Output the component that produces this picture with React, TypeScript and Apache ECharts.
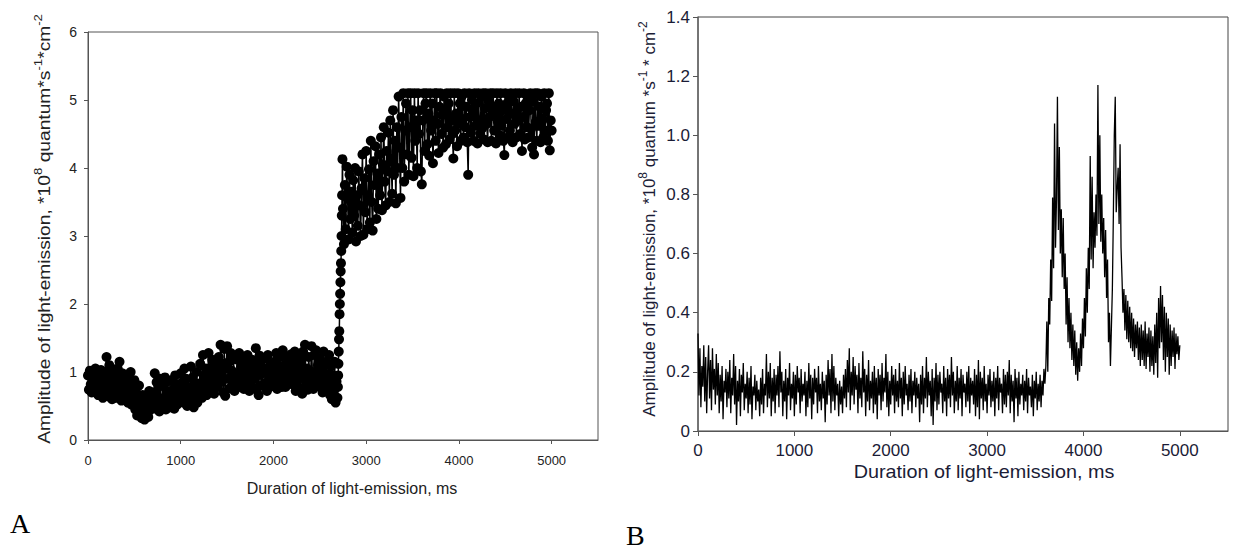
import React, { useEffect, useRef } from "react";
import * as echarts from "echarts";

// ---------- Panel A data (time step 10 ms) ----------
const A_STEP = 10;
// t = 0 .. 2690 ms
const ampA_pre = [
  0.95, 0.74, 1.02, 0.82, 0.7, 0.98, 0.86, 0.76, 1.05, 0.9,
  0.8, 0.66, 0.97, 0.72, 1.03, 0.85, 0.62, 0.92, 0.75, 1.0,
  1.22, 0.88, 0.64, 1.1, 0.76, 0.98, 0.6, 1.04, 0.82, 0.7,
  0.92, 0.62, 1.05, 0.74, 1.15, 0.86, 0.58, 0.98, 0.7, 0.8,
  0.96, 0.6, 0.84, 0.55, 0.9, 0.68, 1.0, 0.52, 0.76, 0.64,
  0.88, 0.45, 0.7, 0.36, 0.62, 0.8, 0.4, 0.55, 0.32, 0.66,
  0.5, 0.3, 0.65, 0.38, 0.58, 0.34, 0.72, 0.44, 0.62, 0.48,
  0.7, 0.55, 0.98, 0.46, 0.85, 0.62, 0.78, 0.42, 0.9, 0.58,
  0.52, 0.8, 0.62, 0.92, 0.45, 0.72, 0.86, 0.56, 0.68, 0.48,
  0.88, 0.6, 0.75, 0.46, 0.95, 0.66, 0.52, 0.82, 0.7, 0.58,
  0.98, 0.62, 0.85, 0.55, 1.05, 0.72, 0.9, 0.5, 0.78, 0.66,
  0.75, 1.08, 0.58, 0.92, 0.48, 0.84, 0.66, 1.0, 0.55, 0.8,
  0.7, 1.12, 0.84, 0.62, 1.25, 0.95, 0.76, 1.05, 0.66, 0.9,
  1.28, 0.8, 1.05, 0.72, 1.18, 0.92, 0.68, 1.1, 0.86, 0.98,
  0.78, 1.22, 0.95, 1.4, 0.86, 1.12, 0.7, 1.34, 0.65, 1.05,
  1.38, 0.9, 1.15, 0.76, 1.28, 1.02, 0.82, 1.2, 0.72, 0.98,
  0.85, 1.18, 0.96, 1.28, 0.78, 1.08, 0.9, 1.22, 0.75, 1.02,
  1.12, 0.8, 1.25, 0.92, 0.72, 1.05, 0.86, 1.18, 0.98, 0.76,
  0.9, 1.35, 0.74, 1.12, 0.66, 1.24, 0.96, 0.8, 1.18, 1.02,
  1.2, 0.84, 1.05, 0.72, 1.25, 0.95, 0.78, 1.12, 0.88, 1.0,
  0.8, 1.15, 0.92, 1.28, 0.75, 1.06, 0.86, 1.22, 0.98, 0.78,
  1.32, 0.9, 1.1, 0.78, 1.22, 1.0, 0.84, 1.16, 0.94, 1.26,
  0.82, 1.18, 0.95, 1.3, 0.72, 1.08, 0.88, 1.24, 0.76, 1.02,
  1.15, 0.68, 1.3, 0.92, 1.4, 0.8, 1.05, 0.74, 1.22, 0.98,
  0.88, 1.38, 1.0, 0.75, 1.25, 0.92, 1.32, 0.8, 1.1, 0.85,
  1.2, 0.78, 1.05, 0.7, 1.3, 0.9, 0.74, 1.15, 0.96, 0.82,
  1.25, 0.66, 1.08, 0.6, 0.95, 0.72, 1.15, 0.55, 0.86, 0.62,
];
// steep rise near 2700 ms
const riseA_t = [2695, 2698, 2701, 2704, 2707, 2710, 2713, 2716, 2719, 2722, 2725, 2728, 2731, 2734, 2737, 2740, 2744];
const riseA_v = [0.78, 0.95, 1.12, 1.3, 1.48, 1.6, 1.85, 2.0, 2.15, 2.32, 2.48, 2.6, 2.78, 3.0, 3.3, 3.6, 4.13];
// t = 2750 .. 5000 ms
const A_POST_START = 2750;
const ampA_post = [
  3.4, 2.88, 3.75, 3.1, 4.02, 3.55, 2.95, 3.9, 3.25, 3.65,
  3.05, 3.82, 3.3, 4.0, 2.92, 3.6, 3.15, 3.95, 3.45, 3.0,
  3.7, 4.2, 3.02, 3.85, 3.35, 4.25, 3.1, 3.6, 3.98, 3.2,
  4.4, 3.5, 3.08, 4.1, 3.75, 4.32, 3.25, 3.92, 3.4, 4.2,
  3.6, 4.45, 3.38, 4.05, 4.6, 3.8, 3.45, 4.25, 3.95, 4.52,
  3.5, 4.7, 4.1, 3.62, 4.85, 3.9, 4.4, 3.48, 4.6, 4.0,
  5.05, 4.3, 3.56, 4.75, 4.0, 5.1, 3.8, 4.55, 4.95, 4.2,
  5.1, 3.9, 4.6, 5.1, 4.15, 4.85, 3.88, 5.1, 4.4, 4.7,
  4.0, 5.1, 4.5, 4.85, 3.95, 3.76, 4.7, 5.1, 4.25, 4.95,
  5.1, 4.35, 4.8, 4.18, 5.1, 4.55, 4.95, 4.07, 4.7, 5.1,
  4.4, 5.1, 4.65, 4.22, 4.9, 5.1, 4.5, 4.78, 4.3, 5.05,
  4.85, 4.35, 5.1, 4.6, 4.95, 4.42, 5.1, 4.7, 4.5, 4.14,
  5.1, 4.55, 4.8, 4.32, 5.1, 4.65, 4.95, 4.4, 5.05, 4.72,
  4.45, 5.1, 4.6, 4.9, 4.38, 3.9, 5.1, 4.75, 4.52, 5.0,
  4.85, 4.4, 5.1, 4.62, 4.95, 4.36, 5.1, 4.7, 4.5, 5.05,
  4.58, 5.1, 4.42, 4.88, 5.1, 4.65, 4.38, 4.98, 4.75, 5.1,
  4.4, 4.9, 5.1, 4.55, 4.8, 4.36, 5.1, 4.68, 4.95, 4.48,
  5.1, 4.62, 4.85, 4.4, 4.19, 5.1, 4.72, 4.95, 4.45, 5.05,
  4.55, 5.1, 4.8, 4.38, 4.98, 4.65, 5.1, 4.45, 4.88, 4.7,
  5.1, 4.5, 4.9, 4.25, 4.75, 5.1, 4.42, 4.95, 4.6, 5.05,
  4.45, 4.85, 5.1, 4.58, 4.3, 4.98, 4.2, 5.1, 4.68, 4.4,
  5.1, 4.62, 4.9, 4.38, 5.05, 4.72, 4.45, 5.1, 4.55, 4.85,
  4.95, 4.4, 5.1, 4.26, 4.7, 4.55,
];

// ---------- Panel B data (time step 10 ms, t = 0 .. 5000) ----------
const B_STEP = 10;
const ampB = [
  0.33, 0.12, 0.28, 0.08, 0.22, 0.15, 0.29, 0.1, 0.25, 0.06,
  0.2, 0.29, 0.11, 0.24, 0.07, 0.28, 0.14, 0.21, 0.09, 0.26,
  0.12, 0.23, 0.06, 0.19, 0.1, 0.22, 0.04, 0.17, 0.13, 0.21,
  0.08, 0.2, 0.11, 0.24, 0.06, 0.18, 0.12, 0.26, 0.09, 0.22,
  0.02, 0.17, 0.1, 0.21, 0.05, 0.19, 0.13, 0.23, 0.07, 0.16,
  0.11, 0.2, 0.06, 0.18, 0.09, 0.22, 0.04, 0.15, 0.12, 0.19,
  0.07, 0.17, 0.1, 0.14, 0.05, 0.18, 0.09, 0.21, 0.06, 0.16,
  0.12, 0.26, 0.08, 0.2, 0.11, 0.23, 0.05, 0.18, 0.1, 0.21,
  0.06, 0.19, 0.12, 0.22, 0.08, 0.27, 0.13, 0.2, 0.05, 0.17,
  0.1, 0.21, 0.04, 0.18, 0.12, 0.23, 0.07, 0.16, 0.11, 0.2,
  0.05, 0.19, 0.09, 0.22, 0.13, 0.18, 0.06, 0.21, 0.1, 0.16,
  0.12, 0.2, 0.05, 0.17, 0.08, 0.23, 0.11, 0.19, 0.04, 0.18,
  0.09, 0.21, 0.13, 0.18, 0.06, 0.22, 0.1, 0.16, 0.07, 0.2,
  0.11, 0.17, 0.03, 0.19, 0.09, 0.24, 0.12, 0.21, 0.06, 0.26,
  0.1, 0.22, 0.07, 0.18, 0.12, 0.16, 0.05, 0.17, 0.09, 0.15,
  0.06, 0.19, 0.11, 0.21, 0.08, 0.24, 0.13, 0.28, 0.07, 0.2,
  0.12, 0.25, 0.09, 0.22, 0.14, 0.19, 0.06, 0.23, 0.11, 0.18,
  0.08, 0.27, 0.13, 0.21, 0.05, 0.19, 0.1, 0.24, 0.07, 0.17,
  0.11, 0.2, 0.06, 0.22, 0.09, 0.18, 0.04, 0.21, 0.12, 0.19,
  0.07, 0.23, 0.1, 0.18, 0.13, 0.26, 0.08, 0.2, 0.05, 0.17,
  0.09, 0.22, 0.12, 0.19, 0.06, 0.21, 0.1, 0.17, 0.08, 0.23,
  0.11, 0.18, 0.05, 0.2, 0.09, 0.22, 0.12, 0.16, 0.07, 0.19,
  0.1, 0.21, 0.06, 0.17, 0.12, 0.2, 0.08, 0.18, 0.11, 0.16,
  0.03, 0.19, 0.09, 0.22, 0.06, 0.18, 0.11, 0.25, 0.08, 0.2,
  0.12, 0.17, 0.05, 0.21, 0.02, 0.18, 0.1, 0.23, 0.07, 0.19,
  0.09, 0.2, 0.13, 0.16, 0.06, 0.22, 0.1, 0.18, 0.05, 0.21,
  0.11, 0.19, 0.08, 0.25, 0.12, 0.2, 0.06, 0.17, 0.1, 0.22,
  0.07, 0.18, 0.11, 0.21, 0.05, 0.19, 0.13, 0.16, 0.08, 0.2,
  0.1, 0.22, 0.06, 0.18, 0.12, 0.17, 0.09, 0.21, 0.05, 0.19,
  0.08, 0.24, 0.04, 0.2, 0.11, 0.18, 0.07, 0.22, 0.1, 0.16,
  0.06, 0.19, 0.12, 0.21, 0.08, 0.17, 0.1, 0.2, 0.05, 0.18,
  0.11, 0.22, 0.07, 0.18, 0.13, 0.16, 0.06, 0.21, 0.09, 0.19,
  0.08, 0.2, 0.12, 0.24, 0.06, 0.19, 0.1, 0.17, 0.03, 0.21,
  0.11, 0.18, 0.05, 0.2, 0.09, 0.16, 0.12, 0.19, 0.07, 0.17,
  0.1, 0.21, 0.06, 0.18, 0.12, 0.15, 0.08, 0.19, 0.05, 0.17,
  0.11, 0.2, 0.07, 0.16, 0.1, 0.19, 0.08, 0.17, 0.12, 0.21,
  0.16, 0.22, 0.37, 0.2, 0.45, 0.36, 0.58, 0.44, 0.79, 0.55,
  1.04, 0.62, 0.78, 1.13, 0.68, 0.96, 0.6, 0.75, 0.52, 0.72,
  0.48, 0.6, 0.36, 0.52, 0.3, 0.45, 0.28, 0.4, 0.24, 0.36,
  0.22, 0.34, 0.19, 0.3, 0.17, 0.28, 0.2, 0.33, 0.22, 0.38,
  0.28, 0.45, 0.32, 0.55, 0.4, 0.62, 0.48, 0.93, 0.58, 0.86,
  0.55, 0.74, 0.62, 0.8, 0.66, 1.17, 0.7, 1.0, 0.64, 0.8,
  0.6, 0.72, 0.52, 0.68, 0.45, 0.58, 0.3, 0.4, 0.22, 0.35,
  0.48, 0.72, 1.0, 1.13, 0.74, 0.82, 0.89, 0.7, 0.97, 0.62,
  0.52, 0.4, 0.48, 0.34, 0.46, 0.31, 0.44, 0.3, 0.42, 0.28,
  0.4, 0.27, 0.38, 0.25, 0.36, 0.28, 0.37, 0.24, 0.35, 0.22,
  0.36, 0.24, 0.34, 0.22, 0.37, 0.21, 0.33, 0.25, 0.35, 0.2,
  0.34, 0.22, 0.32, 0.19, 0.36, 0.23, 0.4, 0.18, 0.45, 0.28,
  0.49, 0.3, 0.46, 0.24, 0.42, 0.2, 0.4, 0.25, 0.38, 0.19,
  0.36, 0.22, 0.34, 0.25, 0.35, 0.21, 0.33, 0.26, 0.32, 0.24,
  0.29,
];

// ---------- tick labels ----------
const xTicks = [0, 1000, 2000, 3000, 4000, 5000];
const yTicksA = [0, 1, 2, 3, 4, 5, 6];
const yTicksB = [0, 0.2, 0.4, 0.6, 0.8, 1.0, 1.2, 1.4];

const SANS = '"Liberation Sans", Arial, sans-serif';
const SERIF = '"Liberation Serif", "Times New Roman", serif';
const TXT_A = "#222222";
const TXT_B = "#1b1c36";

export default function App() {
  const ref = useRef<HTMLDivElement>(null);

  useEffect(() => {
    if (!ref.current) return;
    const chart = echarts.init(ref.current, null, { renderer: "svg" });

    const dataA = [
      ...ampA_pre.map((v, i) => [i * A_STEP, v]),
      ...riseA_t.map((t, i) => [t, riseA_v[i]]),
      ...ampA_post.map((v, i) => [A_POST_START + i * A_STEP, v]),
    ];
    const dataB = ampB.map((v, i) => [i * B_STEP, v]);

    const richTitle = (size: number, sup: number, color: string) => ({
      a: { fontSize: size, fontFamily: SANS, fill: color, lineHeight: size + 8 },
      s: { fontSize: sup, fontFamily: SANS, fill: color, lineHeight: sup + 2, verticalAlign: "top" },
    });

    const option: any = {
      animation: false,
      backgroundColor: "#ffffff",
      grid: [
        { left: 88, top: 32, width: 510, height: 408, show: true, borderColor: "#555", borderWidth: 1, backgroundColor: "transparent" },
        { left: 698, top: 17, width: 530, height: 414, show: true, borderColor: "#444", borderWidth: 1, backgroundColor: "transparent" },
      ],
      xAxis: [
        {
          gridIndex: 0, type: "value", min: 0, max: 5500, interval: 1000,
          axisLine: { show: true, onZero: false, lineStyle: { color: "#555", width: 1 } },
          axisTick: { show: true, length: 4, customValues: xTicks, lineStyle: { color: "#555" } },
          axisLabel: { customValues: xTicks, fontSize: 13, fontFamily: SANS, color: TXT_A, margin: 14, formatter: (v: number) => (v > 5000 ? "" : String(v)) },
          splitLine: { show: false },
        },
        {
          gridIndex: 1, type: "value", min: 0, max: 5500, interval: 1000,
          axisLine: { show: true, onZero: false, lineStyle: { color: "#555", width: 1 } },
          axisTick: { show: true, length: 5, customValues: xTicks, lineStyle: { color: "#555" } },
          axisLabel: { customValues: xTicks, fontSize: 17, fontFamily: SANS, color: TXT_B, margin: 11, formatter: (v: number) => (v > 5000 ? "" : String(v)) },
          splitLine: { show: false },
        },
      ],
      yAxis: [
        {
          gridIndex: 0, type: "value", min: 0, max: 6, interval: 1,
          axisLine: { show: true, lineStyle: { color: "#555", width: 1 } },
          axisTick: { show: true, length: 4, customValues: yTicksA, lineStyle: { color: "#555" } },
          axisLabel: { customValues: yTicksA, fontSize: 14, fontFamily: SANS, color: TXT_A, margin: 11 },
          splitLine: { show: false },
        },
        {
          gridIndex: 1, type: "value", min: 0, max: 1.4, interval: 0.2,
          axisLine: { show: true, lineStyle: { color: "#666", width: 1.5 } },
          axisTick: { show: true, length: 5, customValues: yTicksB, lineStyle: { color: "#555" } },
          axisLabel: {
            customValues: yTicksB, fontSize: 17, fontFamily: SANS, color: TXT_B, margin: 8,
            formatter: (v: number) => (Math.abs(v) < 1e-9 ? "0" : v.toFixed(1)),
          },
          splitLine: { show: false },
        },
      ],
      series: [
        {
          type: "line", xAxisIndex: 0, yAxisIndex: 0, data: dataA,
          symbol: "none", showSymbol: false,
          lineStyle: { color: "#000", width: 1.5 },
          emphasis: { disabled: true },
        },
        {
          type: "scatter", xAxisIndex: 0, yAxisIndex: 0, data: dataA,
          symbol: "circle", symbolSize: 10, large: false,
          itemStyle: { color: "#000", opacity: 1, borderWidth: 0 },
          emphasis: { disabled: true },
        },
        {
          type: "line", xAxisIndex: 1, yAxisIndex: 1, data: dataB,
          symbol: "none", showSymbol: false,
          lineStyle: { color: "#000", width: 1.3 },
          emphasis: { disabled: true },
        },
      ],
      graphic: [
        {
          type: "text", x: 45, y: 229, rotation: Math.PI / 2, scaleX: 1.2,
          style: {
            text: "{a|Amplitude of light-emission, *10}{s|8}{a| quantum*s}{s|-1}{a|*cm}{s|-2}",
            rich: richTitle(16, 11, TXT_A), align: "center", verticalAlign: "middle",
          },
        },
        {
          type: "text", x: 352, y: 488,
          style: { text: "Duration of light-emission, ms", fontSize: 16, fontFamily: SANS, fill: TXT_A, align: "center", verticalAlign: "middle" },
        },
        {
          type: "text", x: 649, y: 219, rotation: Math.PI / 2,
          style: {
            text: "{a|Amplitude of light-emission, *10}{s|8}{a| quantum *s}{s|-1}{a| * cm}{s|-2}",
            rich: richTitle(17, 12, TXT_B), align: "center", verticalAlign: "middle",
          },
        },
        {
          type: "text", x: 984, y: 472, scaleX: 1.1,
          style: { text: "Duration of light-emission, ms", fontSize: 18, fontFamily: SANS, fill: TXT_B, align: "center", verticalAlign: "middle" },
        },
        {
          type: "text", x: 10, y: 523,
          style: { text: "A", fontSize: 28, fontFamily: SERIF, fill: "#000", align: "left", verticalAlign: "middle" },
        },
        {
          type: "text", x: 626, y: 535,
          style: { text: "B", fontSize: 28, fontFamily: SERIF, fill: "#000", align: "left", verticalAlign: "middle" },
        },
      ],
    };

    chart.setOption(option);
    return () => chart.dispose();
  }, []);

  return (
    <div
      ref={ref}
      style={{ position: "fixed", left: 0, top: 0, width: 1233, height: 549, background: "#fff" }}
    />
  );
}
